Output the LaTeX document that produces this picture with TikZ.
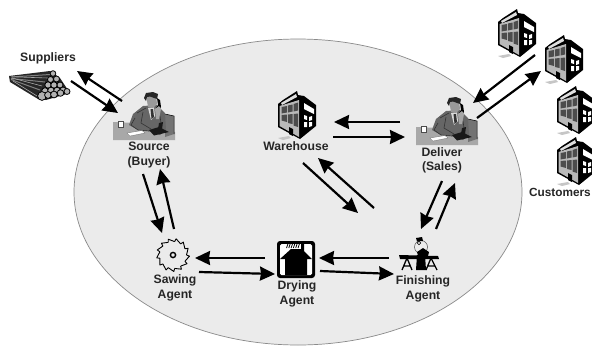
\documentclass[tikz,border=0pt]{standalone}
\usepackage{fontspec}
\setmainfont{Liberation Sans}
\usetikzlibrary{arrows.meta}
\definecolor{pond}{HTML}{EBEBEB}
\definecolor{rim}{HTML}{8A8A8A}
\definecolor{desk}{HTML}{A8A8A8}
\definecolor{suit}{HTML}{666666}
\tikzset{
  x=1pt,y=-1pt,
  flow/.style={line width=2.2pt,-{Stealth[length=15pt,width=14pt,inset=1pt]}},
  caption/.style={font=\fontsize{12.2}{14.3}\selectfont\bfseries,align=center,text=black!85,inner sep=0pt},
  anchorbox/.style={inner sep=0pt,minimum size=4pt},
  bldg/.pic={
    \fill[gray!45] (1,47) -- (12,45) -- (14,47) -- (6,49) -- cycle;
    \fill[black] (1,13) -- (6,9) -- (20,0) -- (21,4) -- (27,5) -- (39,14) -- (39,35) -- (23,48) -- (1,36) -- cycle;
    \fill[gray!25] (4,12) -- (19,3) -- (20,6) -- (5,14) -- cycle;
    \fill[gray!55] (2.5,15) -- (22,9) -- (22,46) -- (2.5,35) -- cycle;
    \fill[black!70] (4.5,16) -- (10,15) -- (10,21.5) -- (4.5,22.5) -- cycle
                    (11,14.5) -- (15.5,13.5) -- (15.5,20.5) -- (11,21.5) -- cycle
                    (16.5,13) -- (21,11.5) -- (21,19.5) -- (16.5,20.5) -- cycle
                    (4.5,24) -- (10,23.5) -- (10,31) -- (4.5,29.5) -- cycle
                    (11,23.5) -- (15.5,23) -- (15.5,33) -- (11,32) -- cycle
                    (16.5,23) -- (21,22.5) -- (21,36) -- (16.5,34.5) -- cycle;
    \fill[black] (12,36) -- (16,38) -- (16,45) -- (12,43) -- cycle;
    \fill[white] (27,12) -- (37,18) -- (37,23) -- (27,18) -- cycle
                 (27,24) -- (30,25) -- (30,29) -- (27,28) -- cycle
                 (32,26) -- (35,25) -- (35,29) -- (32,30) -- cycle
                 (27,31) -- (30,31) -- (30,36) -- (27,36) -- cycle
                 (32,31) -- (35,31) -- (35,35) -- (32,36) -- cycle;
  },
  clerk/.pic={
    \fill[desk] (0,30) -- (24,31) -- (50,36) -- (62,40) -- (62,48) -- (0,48) -- cycle;
    \fill[black!55] (52,22) -- (61,24) -- (61,42) -- (52,45) -- cycle;
    \draw[black,line width=.5pt] (52,22) -- (61,24) -- (61,42);
    \fill[suit] (30,14) -- (44,13) -- (52,21) -- (53,38) -- (47,43) -- (35,39) -- (25,38) -- (16,33) -- (20,22) -- cycle;
    \draw[black!80,line width=.6pt] (22,26) -- (18,33) -- (25,38) -- (36,39) (30,20) -- (28,31) -- (38,37) (47,24) -- (49,38) (33,16) -- (24,21);
    \fill[gray!30] (35,16) -- (41,15) -- (42,24) -- (38,28) -- cycle;
    \fill[black!80] (37.5,17) -- (40,17) -- (41,25) -- (38.5,27) -- cycle;
    \fill[gray!80] (33,3) -- (43,3) -- (44,12) -- (40,16) -- (35,15) -- cycle;
    \fill[black!85] (31,6) -- (33,1) -- (40,0) -- (45,2) -- (44,7) -- (37,4.5) -- (34,5) -- (33,9) -- cycle;
    \fill[black] (44,6) -- (47,8) -- (48,15) -- (45,18) -- (43,16) -- (45,13) -- cycle;
    \fill[black!35] (42,17) -- (46,14) -- (48,17) -- (46,27) -- (43,27) -- cycle;
    \fill[white,draw=black!70,line width=.4pt] (5,29) -- (10,29) -- (10,35) -- (5,35) -- cycle;
    \fill[white,draw=black!60,line width=.3pt] (14,41) -- (29,38.5) -- (32,41) -- (17,44) -- cycle;
    \fill[black!90] (36,38) -- (46,35) -- (56,40) -- (41,43.5) -- cycle;
    \fill[black!90] (46,31) -- (50,30) -- (49,37) -- (45,37) -- cycle;
  }
}
\begin{document}
\begin{tikzpicture}
\useasboundingbox (0,0) rectangle (592,349);
\fill[white] (0,0) rectangle (592,349);
\fill[pond,draw=rim,line width=.7pt] (298,192) ellipse [x radius=224,y radius=153];

% anchor nodes
\node[anchorbox] (suppliers) at (32,85) {};
\node[anchorbox] (source) at (144,116) {};
\node[anchorbox] (saw) at (173,255) {};
\node[anchorbox] (dry) at (296,260) {};
\node[anchorbox] (finish) at (421,252) {};
\node[anchorbox] (wh) at (296,115) {};
\node[anchorbox] (deliver) at (447,121) {};
\node[anchorbox] (custB) at (563,59) {};

% logs
\fill[black!85] (9,76) -- (50,71) -- (60,78) -- (70,93) -- (46,100) -- (38,99) -- (10,82) -- cycle;
\draw[gray,line width=1pt] (11,77) -- (50,74.5) (11,78.5) -- (45,82) (11,79.5) -- (40,90);
\draw[gray!70,line width=.6pt] (12,76.8) -- (48,78) (12,78) -- (42,86) (13,81) -- (37,96);
\foreach \cx/\cy/\cr in {53/73.5/2.8,50.5/79.5/3,56.5/79/3,48/85/3.2,54/85/3.2,60/85/3,45/91/3.3,51/90.5/3.3,57/90.5/3.3,63/90/3,42/96/4.4,48/95/3.4,54/94.5/3.4,60.5/93/3.3,67/91.5/3}
  \fill[gray!60,draw=black,line width=.8pt] (\cx,\cy) circle (\cr);

% clerks
\pic at (113,92) {clerk};
\pic at (416,97) {clerk};

% buildings
\pic at (277,91) {bldg};
\pic at (497,9) {bldg};
\pic at (544,35) {bldg};
\begin{scope}[shift={(556,86)},xscale=.92]
  \pic at (0,0) {bldg};
\end{scope}
\begin{scope}[shift={(556,137)},xscale=.92]
  \pic at (0,0) {bldg};
\end{scope}

% saw blade
\begin{scope}[shift={(saw.center)}]
  \foreach \a in {0,27.69,...,345} {
    \draw[black,line width=.9pt,line join=round]
      (\a:13.5) -- (\a+4:16.5) -- (\a+27.69:13.5);
  }
  \draw[black,line width=1.4pt] (0,0) circle (2.6);
\end{scope}

% drying kiln
\fill[black,rounded corners=3pt] (277,241) rectangle (315,278);
\fill[white,rounded corners=1.5pt] (280,244) rectangle (312,275);
\fill[black] (285,275) -- (285,259) -- (280,259) -- (291,249) -- (301,249) -- (301,244) -- (304,244) -- (304,251) -- (312,259) -- (307,259) -- (307,275) -- cycle;
\foreach \sx in {286.5,288.8,...,299}
  \draw[black,line width=.8pt] (\sx,248) -- (\sx+1.5,243.5);

% finishing table
\fill[black] (399,255) -- (438,256) -- (439,259) -- (400,259) -- cycle;
\draw[black,line width=1.3pt] (407,258) -- (402,270) (407,258) -- (412,270) (404,266) -- (410,266);
\draw[black,line width=1.3pt] (431,258) -- (426,270) (431,258) -- (437,270) (428,266) -- (435,266);
\fill[black] (417,255) -- (425,255) -- (426,270) -- (416,270) -- cycle;
\fill[gray!15,draw=black!70,line width=.5pt] (421,247) circle (6.5);
\fill[black] (416,238) -- (422,237) -- (423,241) -- (417,241.5) -- cycle;
\fill[black] (417,252) -- (423,248) -- (429,252) -- (428,256) -- (418,256) -- cycle;
\draw[black,line width=.6pt] (419,243) circle (1.8);

% captions
\node[caption] (lblsup) at (48,58.5) {Suppliers};
\node[caption] (lblsrc) at (149,155) {Source\\(Buyer)};
\node[caption] (lblsaw) at (175,288) {Sawing\\Agent};
\node[caption] (lbldry) at (297,294) {Drying\\Agent};
\node[caption] (lblfin) at (423,289) {Finishing\\Agent};
\node[caption] (lblwh) at (296,146) {Warehouse};
\node[caption] (lbldel) at (442,160) {Deliver\\(Sales)};
\node[caption,anchor=east,font=\fontsize{11.8}{14.3}\selectfont\bfseries] (lblcus) at (591,192) {Customers};

% connectors
\draw[flow] ([shift={(-22,-15)}]source.center) -- ([shift={(45,-14)}]suppliers.center);
\draw[flow] ([shift={(39,-4)}]suppliers.center) -- ([shift={(-26,-3)}]source.center);
\draw[flow] ([shift={(-1,58)}]source.center) -- ([shift={(-11,-22)}]saw.center);
\draw[flow] ([shift={(1,-26)}]saw.center) -- ([shift={(16,53)}]source.center);
\draw[flow] ([shift={(-31,-2)}]dry.center) -- ([shift={(22,3)}]saw.center);
\draw[flow] ([shift={(26,17)}]saw.center) -- ([shift={(-21,14)}]dry.center);
\draw[flow] ([shift={(-32,6)}]finish.center) -- ([shift={(23,-2)}]dry.center);
\draw[flow] ([shift={(24,11)}]dry.center) -- ([shift={(-27,22)}]finish.center);
\draw[flow] ([shift={(37,22)}]wh.center) -- ([shift={(-42,16)}]deliver.center);
\draw[flow] ([shift={(-47,1)}]deliver.center) -- ([shift={(38,7)}]wh.center);
\draw[flow] ([shift={(7,48)}]wh.center) -- ([shift={(-63,-39)}]finish.center);
\draw[flow] ([shift={(-47,-44)}]finish.center) -- ([shift={(22,43)}]wh.center);
\draw[flow] ([shift={(-5,60)}]deliver.center) -- ([shift={(0,-23)}]finish.center);
\draw[flow] ([shift={(15,-23)}]finish.center) -- ([shift={(8,62)}]deliver.center);
\draw[flow] ([shift={(-28,-4)}]custB.center) -- ([shift={(26,-18)}]deliver.center);
\draw[flow] ([shift={(30,-3)}]deliver.center) -- ([shift={(-22,12)}]custB.center);
\end{tikzpicture}
\end{document}
